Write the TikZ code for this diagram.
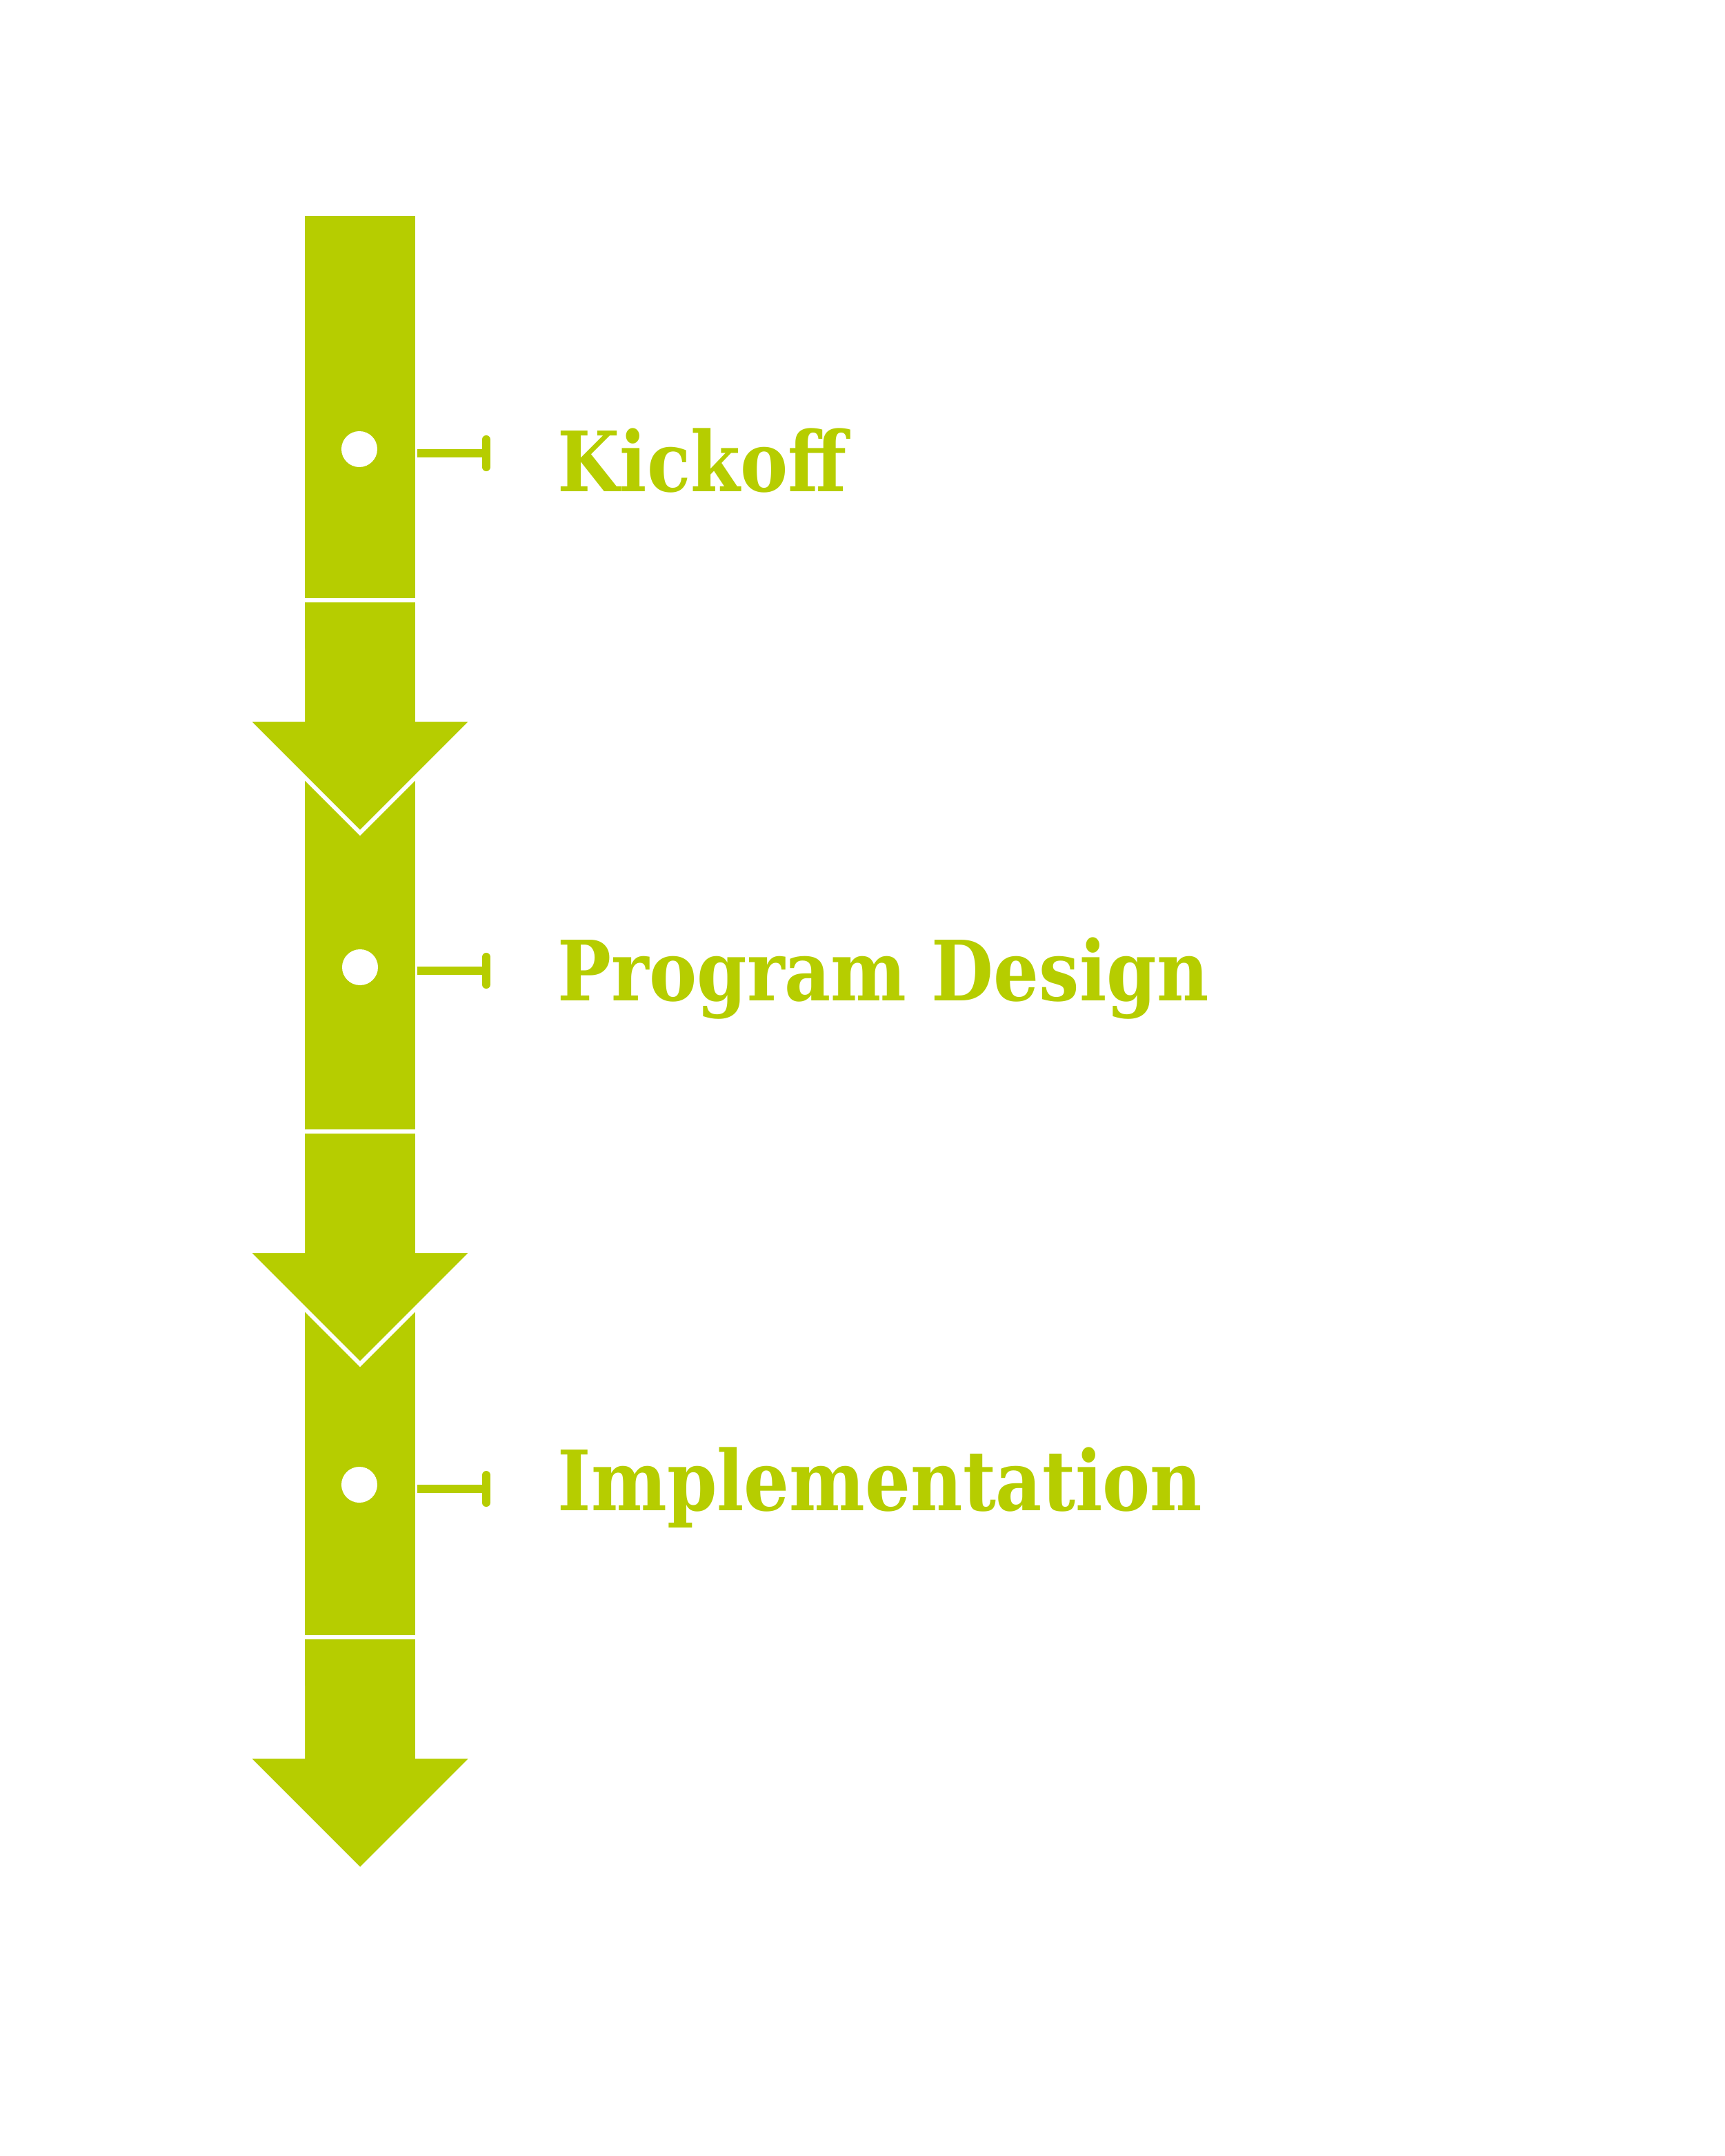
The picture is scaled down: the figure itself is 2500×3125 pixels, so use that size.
\documentclass[tikz,border=0pt]{standalone}
\usepackage{fontspec}
\usetikzlibrary{arrows.meta}
\newfontfamily\stepfont{DejaVu Serif}[FakeStretch=0.86]
\definecolor{leaf}{RGB}{182,205,0}

\begin{document}
\begin{tikzpicture}[
    x=0.01cm, y=-0.01cm,
    stepbox/.style={rectangle, draw=white, fill=leaf, line width=0.06cm, minimum width=1.66cm, minimum height=5.6cm, inner sep=0pt, outer sep=0pt},
    stephead/.style={draw=white, fill=leaf, line width=0.06cm, line join=miter},
    stepdot/.style={circle, fill=white, minimum size=0.52cm, inner sep=0pt},
    steplink/.style={draw=leaf, line width=0.12cm, -{Bar[width=0.40cm, round]}},
    steptext/.style={anchor=base west, inner sep=0pt, text=leaf, font=\stepfont\bfseries\fontsize{34.3}{41}\selectfont},
]
    \useasboundingbox (0,0) rectangle (2500,3125);

    % Bars of the timeline
    \node[stepbox] (box1) at (522, 590) {};
    \node[stepbox] (box2) at (522, 1360) {};
    \node[stepbox] (box3) at (522, 2093) {};

    % Arrows between the bars
    \draw[stephead] (box1.south west) -- (box1.south east) -- ++(0,173) -- ++(81,0) -- ++(-164,164) -- ++(-164,-164) -- ++(81,0) -- cycle;
    \draw[stephead] (box2.south west) -- (box2.south east) -- ++(0,173) -- ++(81,0) -- ++(-164,164) -- ++(-164,-164) -- ++(81,0) -- cycle;
    \draw[stephead] (box3.south west) -- (box3.south east) -- ++(0,173) -- ++(81,0) -- ++(-164,164) -- ++(-164,-164) -- ++(81,0) -- cycle;

    % Step 1
    \node[stepdot] (dot1) at (521, 651) {};
    \coordinate (tick1) at (711, 657);
    \draw[steplink] (box1.east |- tick1) -- (tick1);
    \node[steptext] (text1) at (808, 713) {Kickoff};

    % Step 2
    \node[stepdot] (dot2) at (522, 1402) {};
    \coordinate (tick2) at (711, 1407);
    \draw[steplink] (box2.east |- tick2) -- (tick2);
    \node[steptext] (text2) at (808, 1450) {Program Design};

    % Step 3
    \node[stepdot] (dot3) at (521, 2152) {};
    \coordinate (tick3) at (711, 2158);
    \draw[steplink] (box3.east |- tick3) -- (tick3);
    \node[steptext] (text3) at (808, 2189) {Implementation};
\end{tikzpicture}
\end{document}
